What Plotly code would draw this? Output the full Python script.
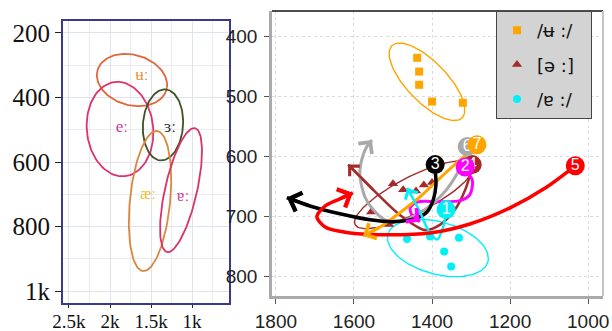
import numpy as np
import plotly.graph_objects as go

# ---------------- Left panel: reference vowel ellipses (F2 vs F1, Hz) ----------------
left_vowels = ["ʉː", "eː", "ɜː", "æː", "ɐː"]
left_cx = [1732, 1878, 1354, 1512, 1134]
left_cy = [346, 498, 485, 721, 687]
left_ux = [-427, -61, 30, 85, 171]
left_uy = [22, 146, 110, 217, 192]
left_vx = [37, 402, -244, -244, -190]
left_vy = [78, 11, 4, 6, 11]
left_line_colors = ["#e2663c", "#e0306e", "#3e5125", "#d8893e", "#d83468"]
left_label_x = [1610, 1854, 1268, 1537, 1110]
left_label_y = [333, 495, 495, 702, 709]
left_label_colors = ["#e8903e", "#c83c9c", "#222222", "#f0c028", "#d0449a"]

left_xticks = [2500, 2000, 1500, 1000]
left_xlabels = ["2.5k", "2k", "1.5k", "1k"]
left_yticks = [200, 400, 600, 800, 1000]
left_ylabels = ["200", "400", "600", "800", "1k"]

# ---------------- Right panel: measured tokens ----------------
uu_f2 = [1438, 1433, 1433, 1400, 1321]
uu_f1 = [435, 458, 480, 508, 510]
er_f2 = [1500, 1474, 1441, 1421, 1400, 1556, 1510]
er_f1 = [645, 655, 657, 647, 643, 692, 713]
ee_f2 = [1464, 1405, 1331, 1369, 1351]
ee_f1 = [737, 733, 735, 758, 783]

legend_names = ["/ʉ :/", "[ə :]", "/ɐ :/"]
series_colors = ["#FFA500", "#A52A2A", "#00F0F8"]

# confidence ellipses: centre and two semi-axis vectors (F2, F1)
ell_cx = [1413, 1446, 1385]
ell_cy = [475, 663, 752]
ell_ux = [-90, -151, -128]
ell_uy = [60, -50, 23]
ell_vx = [36, -21, 18]
ell_vy = [24, 27, 42]

# speaker trajectories (F2, F1); last point is the arrow tip
traj_ids = ["4", "2", "6", "7", "3", "1", "5"]
traj_colors = ["#A52A2A", "#FF00FF", "#A9A9A9", "#FFA500", "#000000", "#00F0F8", "#FF0000"]
traj_widths = [2.5, 3, 3, 3, 3.5, 2.5, 3.5]
traj_f2 = [
    [1297, 1315, 1341, 1379, 1418, 1482, 1546, 1615],
    [1321, 1297, 1303, 1328, 1379, 1436, 1456, 1451, 1431],
    [1310, 1333, 1367, 1418, 1482, 1521, 1551, 1572, 1585, 1579, 1567, 1554],
    [1285, 1328, 1379, 1431, 1482, 1533, 1577],
    [1392, 1390, 1397, 1413, 1444, 1495, 1559, 1636, 1713, 1772],
    [1364, 1372, 1387, 1410, 1431, 1451, 1464],
    [1033, 1110, 1200, 1303, 1405, 1508, 1610, 1674, 1695, 1674, 1636, 1603],
]
traj_f1 = [
    [618, 655, 688, 713, 722, 697, 658, 613],
    [622, 638, 663, 673, 675, 675, 685, 698, 708],
    [592, 625, 658, 688, 708, 705, 688, 667, 630, 602, 583, 572],
    [583, 605, 635, 667, 693, 717, 732],
    [622, 647, 672, 692, 703, 708, 705, 695, 682, 668],
    [692, 718, 738, 722, 692, 667, 652],
    [615, 652, 685, 712, 727, 730, 727, 717, 700, 682, 670, 660],
]
label_f2 = [1297, 1315, 1310, 1285, 1392, 1364, 1033]
label_f1 = [613, 617, 583, 580, 613, 688, 615]

right_xticks = [1800, 1600, 1400, 1200, 1000]
right_yticks = [400, 500, 600, 700, 800]


def ellipse(cx, cy, ux, uy, vx, vy, n=120):
    t = np.linspace(0, 2 * np.pi, n)
    return cx + ux * np.cos(t) + vx * np.sin(t), cy + uy * np.cos(t) + vy * np.sin(t)


fig = go.Figure()

# left panel ellipses and vowel labels
for i, v in enumerate(left_vowels):
    ex, ey = ellipse(left_cx[i], left_cy[i], left_ux[i], left_uy[i], left_vx[i], left_vy[i])
    fig.add_trace(go.Scatter(x=ex, y=ey, mode="lines", xaxis="x", yaxis="y",
                             line=dict(color=left_line_colors[i], width=1.8),
                             showlegend=False, hoverinfo="skip"))
fig.add_trace(go.Scatter(x=left_label_x, y=left_label_y, mode="text", text=left_vowels,
                         xaxis="x", yaxis="y",
                         textfont=dict(family="Liberation Serif", size=17, color=left_label_colors),
                         showlegend=False, hoverinfo="skip"))

# right panel ellipses
for i in range(3):
    ex, ey = ellipse(ell_cx[i], ell_cy[i], ell_ux[i], ell_uy[i], ell_vx[i], ell_vy[i])
    fig.add_trace(go.Scatter(x=ex, y=ey, mode="lines", xaxis="x2", yaxis="y2",
                             line=dict(color=series_colors[i], width=1.4),
                             showlegend=False, hoverinfo="skip"))

# token points (one legend group each so the rows can be spaced)
pad = "\u00a0\u00a0"
fig.add_trace(go.Scatter(x=uu_f2, y=uu_f1, mode="markers", name=legend_names[0] + pad,
                         xaxis="x2", yaxis="y2", legendgroup="a",
                         marker=dict(symbol="square", size=8, color=series_colors[0])))
fig.add_trace(go.Scatter(x=er_f2, y=er_f1, mode="markers", name=legend_names[1] + pad,
                         xaxis="x2", yaxis="y2", legendgroup="b",
                         marker=dict(symbol="triangle-up", size=9, color=series_colors[1])))
fig.add_trace(go.Scatter(x=ee_f2, y=ee_f1, mode="markers", name=legend_names[2] + pad,
                         xaxis="x2", yaxis="y2", legendgroup="c",
                         marker=dict(symbol="circle", size=8, color=series_colors[2])))

# trajectories with open arrowheads
annotations = []
for i in range(len(traj_ids)):
    fig.add_trace(go.Scatter(x=traj_f2[i], y=traj_f1[i], mode="lines", xaxis="x2", yaxis="y2",
                             line=dict(color=traj_colors[i], width=traj_widths[i], shape="spline", smoothing=0.8),
                             showlegend=False, hoverinfo="skip"))
    annotations.append(dict(x=traj_f2[i][-1], y=traj_f1[i][-1], ax=traj_f2[i][-2], ay=traj_f1[i][-2],
                            xref="x2", yref="y2", axref="x2", ayref="y2", text="",
                            showarrow=True, arrowhead=4, arrowsize=1.1,
                            arrowwidth=traj_widths[i], arrowcolor=traj_colors[i], standoff=0))

# numbered start labels
for i in range(len(traj_ids)):
    fig.add_trace(go.Scatter(x=[label_f2[i]], y=[label_f1[i]], mode="markers+text",
                             text=[traj_ids[i]], textposition="middle center",
                             xaxis="x2", yaxis="y2",
                             marker=dict(size=19, color=traj_colors[i]),
                             textfont=dict(family="Liberation Sans", size=16, color="white"),
                             showlegend=False, hoverinfo="skip"))

serif = "Liberation Serif"
sans = "Liberation Sans Narrow, Liberation Sans, Arial"

fig.update_layout(
    width=612, height=331,
    margin=dict(l=0, r=0, t=0, b=0),
    paper_bgcolor="white",
    plot_bgcolor="white",
    showlegend=True,
    legend=dict(x=496 / 612, y=1 - 11 / 331, xanchor="left", yanchor="top",
                bgcolor="#d3d3d3", bordercolor="#444444", borderwidth=1,
                font=dict(family="DejaVu Sans", size=18, color="#111111"),
                itemwidth=30, tracegroupgap=8, traceorder="grouped"),
    xaxis=dict(domain=[63 / 612, 229 / 612], range=[2573, 549], anchor="y", automargin=False,
               tickvals=left_xticks, ticktext=left_xlabels,
               tickfont=dict(family=serif, size=19, color="#111111"),
               ticks="outside", ticklen=3, tickcolor="#222222", ticklabelstandoff=-3,
               showgrid=True, gridcolor="#dfe3ee", gridwidth=1,
               minor=dict(dtick=250, showgrid=True, gridcolor="#e9ecf3"),
               showline=True, linecolor="#3a3a8c", linewidth=2, mirror=True, zeroline=False),
    yaxis=dict(domain=[1 - 303 / 331, 1 - 21 / 331], range=[1037, 163], anchor="x", automargin=False,
               tickvals=left_yticks, ticktext=left_ylabels,
               tickfont=dict(family=serif, size=25, color="#111111"),
               ticks="outside", ticklen=6, tickcolor="#222222",
               showgrid=True, gridcolor="#dfe3ee", gridwidth=1,
               minor=dict(dtick=100, showgrid=True, gridcolor="#e9ecf3"),
               showline=True, linecolor="#3a3a8c", linewidth=2, mirror=True, zeroline=False),
    xaxis2=dict(domain=[272 / 612, 603 / 612], range=[1810, 962], anchor="y2", automargin=False,
                tickvals=right_xticks,
                tickfont=dict(family=sans, size=19, color="#222222"),
                ticks="outside", ticklen=5, tickcolor="#555555", ticklabelstandoff=1,
                showgrid=True, gridcolor="#dcdcdc", griddash="dot", gridwidth=1,
                showline=True, linecolor="#aaaaaa", linewidth=2.5, zeroline=False),
    yaxis2=dict(domain=[1 - 296 / 331, 1 - 11 / 331], range=[832, 357], anchor="x2", automargin=False,
                tickvals=right_yticks,
                tickfont=dict(family=sans, size=19, color="#222222"),
                ticks="outside", ticklen=5, tickcolor="#555555", ticklabelstandoff=3,
                showgrid=True, gridcolor="#dcdcdc", griddash="dot", gridwidth=1,
                showline=True, linecolor="#aaaaaa", linewidth=2.5, zeroline=False),
    annotations=annotations,
    shapes=[
        dict(type="line", xref="x2 domain", yref="y2 domain", x0=0, x1=1, y0=1, y1=1,
             line=dict(color="#111111", width=1.5)),
        dict(type="line", xref="x2 domain", yref="y2 domain", x0=1, x1=1, y0=0, y1=1,
             line=dict(color="#c4c4c4", width=2)),
    ],
)

fig.write_html("out.html")
